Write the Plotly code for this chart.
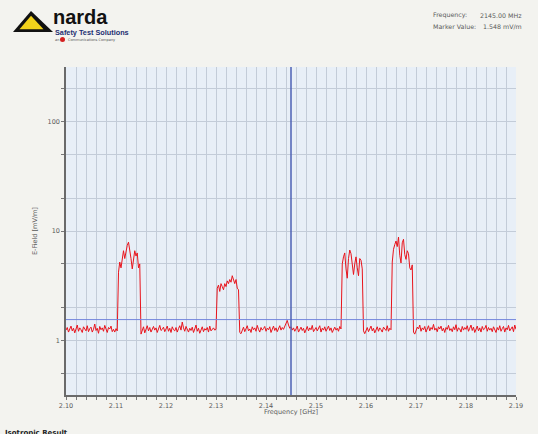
import numpy as np
import plotly.graph_objects as go

# ---------------- data ----------------
freq_start = 2.100   # GHz
freq_stop = 2.190    # GHz

# E-field trace [mV/m], one row per 0.005 GHz (0.00025 GHz steps)
efield_rows = [
    [1.24,1.31,1.19,1.27,1.35,1.22,1.29,1.17,1.26,1.38,1.21,1.30,1.25,1.18,1.33,1.27,1.22,1.36,1.20,1.28],
    [1.32,1.19,1.26,1.41,1.23,1.29,1.16,1.34,1.25,1.30,1.21,1.37,1.24,1.18,1.31,1.27,1.35,1.20,1.26,1.19],
    [1.28,1.22,4.2,5.2,4.6,5.9,6.6,5.6,6.8,7.4,7.9,6.2,5.6,4.5,5.7,6.6,5.9,6.3,4.6,5.0],
    [1.14,1.21,1.33,1.17,1.28,1.36,1.22,1.31,1.19,1.27,1.34,1.24,1.30,1.18,1.29,1.37,1.23,1.26,1.32,1.20],
    [1.27,1.35,1.21,1.29,1.18,1.33,1.25,1.22,1.31,1.19,1.28,1.36,1.24,1.47,1.30,1.21,1.34,1.26,1.19,1.29],
    [1.23,1.32,1.18,1.27,1.38,1.21,1.29,1.16,1.25,1.33,1.20,1.28,1.24,1.31,1.19,1.35,1.22,1.27,1.30,1.24],
    [1.26,3.0,3.2,2.8,3.3,3.1,2.9,3.3,3.1,3.5,3.3,3.6,3.4,3.9,3.5,3.3,3.6,3.0,2.9,1.18],
    [1.15,1.24,1.32,1.20,1.29,1.36,1.22,1.27,1.18,1.33,1.25,1.30,1.21,1.37,1.26,1.19,1.31,1.24,1.28,1.34],
    [1.21,1.29,1.25,1.33,1.18,1.27,1.35,1.23,1.30,1.20,1.28,1.36,1.24,1.31,1.26,1.34,1.42,1.52,1.38,1.29],
    [1.33,1.24,1.30,1.21,1.27,1.35,1.19,1.28,1.32,1.23,1.29,1.17,1.26,1.34,1.22,1.30,1.25,1.37,1.20,1.28],
    [1.31,1.22,1.27,1.36,1.19,1.29,1.24,1.33,1.21,1.28,1.35,1.23,1.30,1.18,1.26,1.32,1.24,1.29,1.21,1.34],
    [1.27,5.0,5.8,6.3,4.5,3.7,5.6,6.7,6.2,5.0,4.0,5.0,5.8,4.6,3.9,5.6,5.4,4.5,1.22,1.15],
    [1.24,1.31,1.20,1.28,1.35,1.22,1.29,1.17,1.26,1.33,1.21,1.30,1.25,1.19,1.32,1.27,1.23,1.36,1.21,1.29],
    [1.25,5.2,6.8,7.5,8.1,7.2,8.8,6.0,5.1,7.8,8.4,6.1,5.5,6.6,6.2,4.6,4.4,4.9,1.19,1.14],
    [1.23,1.32,1.27,1.38,1.21,1.30,1.25,1.34,1.19,1.28,1.36,1.22,1.31,1.26,1.40,1.24,1.29,1.20,1.33,1.27],
    [1.35,1.22,1.29,1.18,1.31,1.26,1.37,1.23,1.28,1.20,1.33,1.25,1.39,1.21,1.30,1.27,1.19,1.34,1.24,1.31],
    [1.26,1.36,1.21,1.29,1.38,1.23,1.32,1.18,1.27,1.35,1.22,1.30,1.19,1.34,1.25,1.28,1.37,1.21,1.31,1.24],
    [1.29,1.20,1.33,1.26,1.18,1.31,1.24,1.36,1.21,1.28,1.34,1.19,1.30,1.25,1.37,1.22,1.27,1.33,1.20,1.38],
    [1.26],
]

marker_freq = 2.145      # GHz
marker_value = 1.548     # mV/m

y_tick_vals = [0.5, 1, 2, 5, 10, 20, 50, 100, 200]
y_tick_text = ["", "1", "", "", "10", "", "", "100", ""]

# ---------------- figure ----------------
efield = [v for row in efield_rows for v in row]
freq = np.linspace(freq_start, freq_stop, len(efield))

W, H = 538, 434
PL, PR, PT, PB = 66, 516, 67, 395   # plot-area pixel box

FONT = "DejaVu Sans"
GRID = "#c3ccd8"
TXT = "#5a5a5a"

fig = go.Figure()
fig.add_trace(go.Scatter(
    x=freq, y=efield, mode="lines",
    line=dict(color="#e8141c", width=1),
    hoverinfo="skip", showlegend=False,
))

# header logo (overlay pixel-coordinate axes)
fig.add_trace(go.Scatter(
    x=[13, 31, 53, 13], y=[32, 11, 32, 32], mode="lines", fill="toself",
    fillcolor="#111111", line=dict(width=0), xaxis="x2", yaxis="y2",
    hoverinfo="skip", showlegend=False,
))
fig.add_trace(go.Scatter(
    x=[19.5, 31, 43.5, 19.5], y=[29.3, 15.8, 29.3, 29.3], mode="lines", fill="toself",
    fillcolor="#f2d21b", line=dict(width=0), xaxis="x2", yaxis="y2",
    hoverinfo="skip", showlegend=False,
))
fig.add_trace(go.Scatter(
    x=[62.5], y=[39.5], mode="markers", marker=dict(color="#d42020", size=5),
    xaxis="x2", yaxis="y2", hoverinfo="skip", showlegend=False,
))

fig.update_layout(
    xaxis=dict(
        domain=[PL / W, PR / W], anchor="y", automargin=False,
        range=[freq_start, freq_stop], tick0=freq_start, dtick=0.01, tickformat=".2f",
        showgrid=True, gridcolor=GRID, gridwidth=1,
        minor=dict(dtick=0.002, tick0=freq_start, showgrid=True, gridcolor=GRID,
                   ticks="outside", ticklen=3, tickcolor="#777"),
        ticks="outside", ticklen=3, tickcolor="#777",
        showline=True, linecolor="#6a6a6a", linewidth=1.5, zeroline=False,
        tickfont=dict(family=FONT, size=6.5, color=TXT),
    ),
    yaxis=dict(
        type="log", range=[-0.5, 2.5], domain=[(H - PB) / H, (H - PT) / H], anchor="x",
        tickvals=y_tick_vals, ticktext=y_tick_text,
        showgrid=True, gridcolor=GRID, gridwidth=1,
        ticks="outside", ticklen=3, tickcolor="#777",
        showline=True, linecolor="#6a6a6a", linewidth=1.5, zeroline=False,
        tickfont=dict(family=FONT, size=6.5, color=TXT), automargin=False,
    ),
    xaxis2=dict(domain=[0, 1], range=[0, W], visible=False, anchor="y2", fixedrange=True),
    yaxis2=dict(domain=[0, 1], range=[H, 0], visible=False, anchor="x2", fixedrange=True),
)

# plot-area background (below grid)
fig.add_shape(type="rect", xref="x domain", yref="y domain", x0=0, x1=1, y0=0, y1=1,
              fillcolor="#e8eff7", line=dict(width=0), layer="below")
# marker cross-hair
fig.add_hline(y=marker_value, line=dict(color="#7286dc", width=1))
fig.add_vline(x=marker_freq, line=dict(color="#4e62b4", width=1.5))

annotations = [
    dict(text="<b>narda</b>", x=51, y=4, xanchor="left", yanchor="top",
         font=dict(family="Liberation Sans", size=20, color="#111")),
    dict(text="<b>Safety Test Solutions</b>", x=53, y=26, xanchor="left", yanchor="top",
         font=dict(family="Liberation Sans", size=7.3, color="#1d2f72")),
    dict(text="an", x=53, y=40, xanchor="left", yanchor="middle",
         font=dict(family=FONT, size=3.5, color="#555")),
    dict(text="Communications Company", x=66, y=40, xanchor="left", yanchor="middle",
         font=dict(family=FONT, size=3.5, color="#555")),
    dict(text="Frequency:", x=431, y=15, xanchor="left", yanchor="middle",
         font=dict(family=FONT, size=6.3, color=TXT)),
    dict(text=f"{marker_freq*1000:.2f} MHz", x=524, y=15, xanchor="right", yanchor="middle",
         font=dict(family=FONT, size=6.3, color=TXT)),
    dict(text="Marker Value:", x=431, y=26, xanchor="left", yanchor="middle",
         font=dict(family=FONT, size=6.3, color=TXT)),
    dict(text=f"{marker_value:.3f} mV/m", x=524, y=26, xanchor="right", yanchor="middle",
         font=dict(family=FONT, size=6.3, color=TXT)),
    dict(text="Frequency [GHz]", x=(PL + PR) / 2, y=412, xanchor="center", yanchor="middle",
         font=dict(family=FONT, size=6.5, color=TXT)),
    dict(text="E-Field [mV/m]", x=35, y=(PT + PB) / 2, xanchor="center", yanchor="middle",
         textangle=-90, font=dict(family=FONT, size=6.5, color=TXT)),
    dict(text="<b>Isotropic Result</b>", x=3, y=427, xanchor="left", yanchor="top",
         font=dict(family=FONT, size=7, color="#222")),
]
for a in annotations:
    a.update(xref="x2", yref="y2", showarrow=False)

fig.update_layout(
    width=W, height=H,
    margin=dict(l=0, r=0, t=0, b=0, pad=0),
    paper_bgcolor="#f3f3ef", plot_bgcolor="rgba(0,0,0,0)",
    annotations=annotations,
    showlegend=False,
)

fig.write_html("out.html", config={"displayModeBar": False},
               post_script="document.body.style.margin='0';document.body.style.overflow='hidden';")
